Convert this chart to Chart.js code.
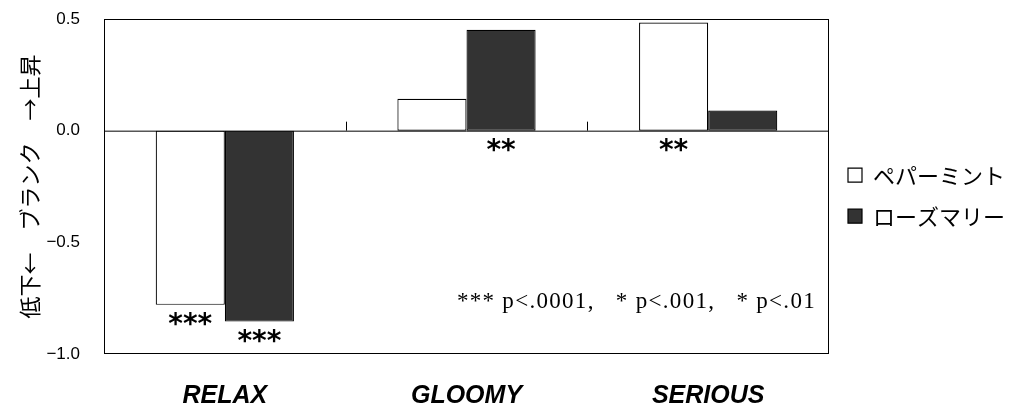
<!DOCTYPE html>
<html>
<head>
<meta charset="utf-8">
<script src="https://cdn.jsdelivr.net/npm/chart.js@4/dist/chart.umd.min.js"></script>
<style>
  html, body { margin: 0; padding: 0; background: #fff; }
  #wrap { width: 1019px; height: 417px; position: relative; }
</style>
</head>
<body>
<div id="wrap"><canvas id="chart"></canvas></div>
<script>
const categories = ["RELAX", "GLOOMY", "SERIOUS"];
const peppermint = [-0.78, 0.143, 0.484];
const rosemary = [-0.855, 0.452, 0.09];
const peppermintStars = ["***", "", "**"];
const rosemaryStars = ["***", "**", ""];
const yTicks = [0.5, 0.0, -0.5, -1.0];
const note = "*** p<.0001,   * p<.001,   * p<.01";

const jpFont = "'Noto Sans CJK JP', 'Noto Sans', sans-serif";

// frame, zero-line ticks, significance stars, footnote
const extras = {
  id: "extras",
  afterDatasetsDraw(chart) {
    const { ctx, chartArea: a, scales } = chart;
    const y0 = scales.y.getPixelForValue(0);
    ctx.save();
    ctx.strokeStyle = "#000";
    ctx.lineWidth = 1;
    ctx.strokeRect(a.left + 0.5, a.top + 0.5, a.right - a.left - 1, a.bottom - a.top - 1);
    ctx.beginPath();
    ctx.moveTo(a.left, y0 + 0.5);
    ctx.lineTo(a.right, y0 + 0.5);
    const step = (a.right - a.left) / categories.length;
    for (let i = 1; i < categories.length; i++) {
      const x = Math.round(a.left + step * i) + 0.5;
      ctx.moveTo(x, y0);
      ctx.lineTo(x, y0 - 9);
    }
    ctx.stroke();

    ctx.fillStyle = "#000";
    ctx.font = "bold 28px 'DejaVu Sans', sans-serif";
    ctx.textAlign = "center";
    ctx.textBaseline = "top";
    [peppermintStars, rosemaryStars].forEach((stars, di) => {
      const meta = chart.getDatasetMeta(di);
      stars.forEach((s, i) => {
        if (!s) return;
        const bar = meta.data[i];
        const bottom = Math.max(bar.y, bar.base);
        ctx.fillText(s, bar.x, bottom + 7);
      });
    });

    ctx.font = "23px 'Liberation Serif', serif";
    ctx.letterSpacing = "1.3px";
    ctx.textAlign = "right";
    ctx.textBaseline = "middle";
    ctx.fillText(note, a.right - 13, scales.y.getPixelForValue(-0.765));
    ctx.restore();
  }
};

new Chart(document.getElementById("chart"), {
  type: "bar",
  data: {
    labels: categories,
    datasets: [
      {
        label: "ペパーミント",
        data: peppermint,
        backgroundColor: "#ffffff",
        borderColor: "#000000",
        borderWidth: 1.2,
        borderSkipped: false,
        barPercentage: 1.0,
        categoryPercentage: 0.572
      },
      {
        label: "ローズマリー",
        data: rosemary,
        backgroundColor: "#333333",
        borderColor: "#000000",
        borderWidth: 1.2,
        borderSkipped: false,
        barPercentage: 1.0,
        categoryPercentage: 0.572
      }
    ]
  },
  options: {
    responsive: true,
    maintainAspectRatio: false,
    animation: false,
    layout: { padding: { top: 19, right: 4, left: 0, bottom: 0 } },
    plugins: {
      tooltip: { enabled: false },
      legend: {
        position: "right",
        fullSize: false,
        title: { display: true, text: " ", font: { size: 12 }, padding: 2 },
        labels: {
          color: "#000",
          font: { family: jpFont, size: 22 },
          boxWidth: 14,
          boxHeight: 14,
          padding: 19,
          useBorderRadius: false
        }
      }
    },
    scales: {
      x: {
        grid: { display: false, drawTicks: false },
        border: { display: false },
        ticks: {
          color: "#000",
          padding: 27,
          font: { family: "'Liberation Sans', sans-serif", size: 25, style: "italic", weight: "bold" }
        },
        afterFit(scale) { scale.height = 63; }
      },
      y: {
        min: -1.0,
        max: 0.5,
        afterBuildTicks(scale) { scale.ticks = yTicks.map(v => ({ value: v })); },
        grid: { display: false, drawTicks: true, tickLength: 18 },
        border: { display: false },
        ticks: {
          color: "#000",
          padding: 6,
          font: { family: "'Liberation Sans', Arial, sans-serif", size: 17 },
          callback: v => (v < 0 ? "\u2212" + Math.abs(v).toFixed(1) : v.toFixed(1))
        },
        title: {
          display: true,
          text: "低下←\u3000ブランク\u3000→上昇",
          color: "#000",
          font: { family: jpFont, size: 22 },
          padding: { top: 16, bottom: 4 }
        },
        afterFit(scale) { scale.width = 104; }
      }
    }
  },
  plugins: [extras]
});
</script>
</body>
</html>
